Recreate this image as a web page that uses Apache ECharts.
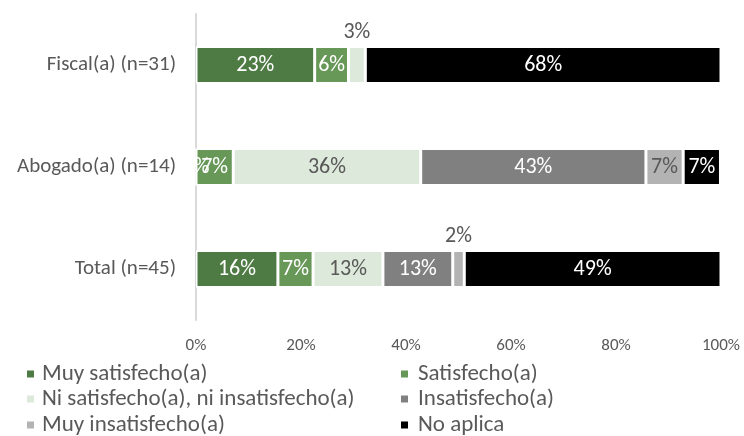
<!DOCTYPE html>
<html>
<head>
<meta charset="utf-8">
<script src="https://cdn.jsdelivr.net/npm/echarts@6/dist/echarts.min.js"></script>
<style>
  html, body { margin: 0; padding: 0; background: #fff; }
  #chart { width: 744px; height: 436px; }
</style>
</head>
<body>
<div id="chart"></div>
<script>
// categories (top to bottom)
var categories = ['Fiscal(a) (n=31)', 'Abogado(a) (n=14)', 'Total (n=45)'];
var seriesNames = ['Muy satisfecho(a)', 'Satisfecho(a)', 'Ni satisfecho(a), ni insatisfecho(a)', 'Insatisfecho(a)', 'Muy insatisfecho(a)', 'No aplica'];
// percentages per series, one value per category
var muySatisfecho = [22.6, 0, 15.6];
var satisfecho = [6.45, 7.1, 6.7];
var niSatisfecho = [3.2, 35.7, 13.3];
var insatisfecho = [0, 42.9, 13.3];
var muyInsatisfecho = [0, 7.1, 2.2];
var noAplica = [67.75, 7.1, 48.9];
var xTicks = [0, 20, 40, 60, 80, 100];

var FONT = 'Carlito, "Liberation Sans Narrow", "Open Sans", sans-serif';
var colors = ['#4e7a43', '#679858', '#dde9da', '#808080', '#b3b3b3', '#000000'];
var labelColors = ['#fff', '#fff', '#595959', '#fff', '#595959', '#fff'];
var allData = [muySatisfecho, satisfecho, niSatisfecho, insatisfecho, muyInsatisfecho, noAplica];

var chart = echarts.init(document.getElementById('chart'));

var series = seriesNames.map(function (name, i) {
	return {
		name: name,
		type: 'bar',
		stack: 'total',
		barWidth: 37,
		itemStyle: { color: colors[i], borderColor: '#fff', borderWidth: 1.5 },
		data: allData[i].map(function (v, j) {
			var item = { value: v };
			// hide empty segments, but keep the 0% shown for Abogado
			if (v === 0 && !(i === 0 && j === 1)) {
				item.label = { show: false };
			} else if (v > 0 && v < 4 && (i === 2 || i === 4)) {
				// tiny segments get their label above the bar
				item.label = { position: 'top', color: '#595959', distance: 3 };
			}
			return item;
		}),
		label: {
			show: true,
			position: 'inside',
			color: labelColors[i],
			fontFamily: FONT,
			fontSize: 22,
			formatter: function (p) { return Math.round(p.value) + '%'; }
		}
	};
});

// legend laid out in two columns, three rows (last row is cut by the edge like the original)
var legendCols = [25, 399];
var legendRows = [374, 399, 425];
var legendOrder = [0, 1, 2, 3, 4, 5];
var legends = legendOrder.map(function (k) {
	var col = k % 2, row = Math.floor(k / 2);
	return {
		left: legendCols[col],
		top: legendRows[row] - 13,
		padding: 0,
		itemWidth: 9,
		itemHeight: 9,
		icon: 'rect',
		data: [seriesNames[k]],
		textStyle: { color: '#595959', fontSize: 23, fontFamily: FONT, lineHeight: 26, padding: [0, 0, 0, col ? 4 : 2] }
	};
});

var option = {
	animation: false,
	grid: { left: 196, right: 23, top: 14, bottom: 116 },
	xAxis: {
		type: 'value',
		min: 0,
		max: 100,
		interval: 20,
		axisLine: { show: false },
		axisTick: { show: false },
		splitLine: { show: false },
		axisLabel: {
			color: '#595959',
			fontSize: 17,
			fontFamily: FONT,
			margin: 17,
			formatter: function (v) { return xTicks.indexOf(v) >= 0 ? v + '%' : ''; }
		}
	},
	yAxis: {
		type: 'category',
		inverse: true,
		data: categories,
		axisLine: { show: true, lineStyle: { color: '#d9d9d9', width: 2 } },
		axisTick: { show: false },
		axisLabel: { color: '#595959', fontSize: 21, fontFamily: FONT, margin: 20 }
	},
	legend: legends,
	series: series
};
chart.setOption(option);
</script>
</body>
</html>
